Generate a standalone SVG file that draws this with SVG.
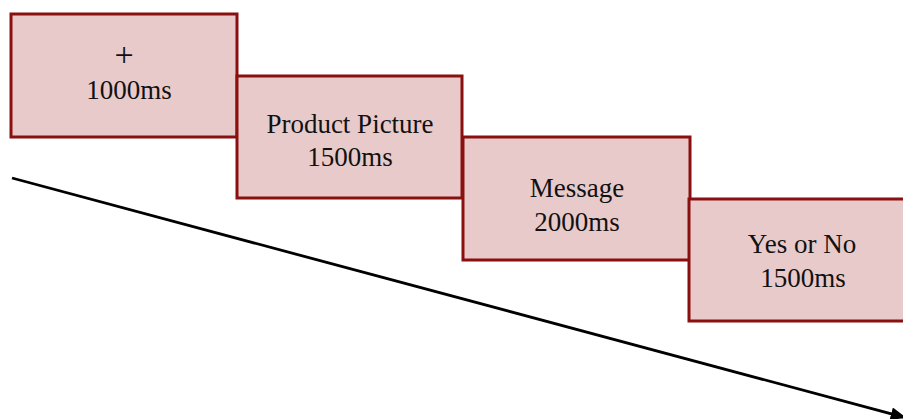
<svg xmlns="http://www.w3.org/2000/svg" width="903" height="419" viewBox="0 0 903 419">
<defs>
<style>
.box{fill:#e8cacb;stroke:#8a1010;stroke-width:3}
.t{font-family:"Liberation Serif","Times New Roman",serif;font-size:27px;fill:#111;text-anchor:middle}
.conn{stroke:#000;stroke-width:2.8;fill:none}
</style>
<marker id="ahb" viewBox="0 0 12 10" markerWidth="16" markerHeight="13" refX="11" refY="5" orient="auto" markerUnits="userSpaceOnUse"><path d="M0,0 L12,5 L0,10 Z" fill="#000"/></marker>
</defs>
<rect width="903" height="419" fill="#fff"/>
<g id="connectors">
<line class="conn" x1="12" y1="178" x2="905" y2="417.5" marker-end="url(#ahb)"/>
</g>
<g id="node1">
<rect class="box" x="11" y="14" width="226" height="123"/>
<text class="t" x="124" y="66" style="font-size:34px">+</text>
<text class="t" x="129" y="99">1000ms</text>
</g>
<g id="node2">
<rect class="box" x="237" y="76" width="225" height="122"/>
<text class="t" x="350" y="133">Product Picture</text>
<text class="t" x="350" y="166">1500ms</text>
</g>
<g id="node3">
<rect class="box" x="463" y="137" width="227" height="123"/>
<text class="t" x="577" y="197">Message</text>
<text class="t" x="577" y="231">2000ms</text>
</g>
<g id="node4">
<rect class="box" x="689" y="199" width="227" height="122"/>
<text class="t" x="802" y="253">Yes or No</text>
<text class="t" x="803" y="287">1500ms</text>
</g>
</svg>
